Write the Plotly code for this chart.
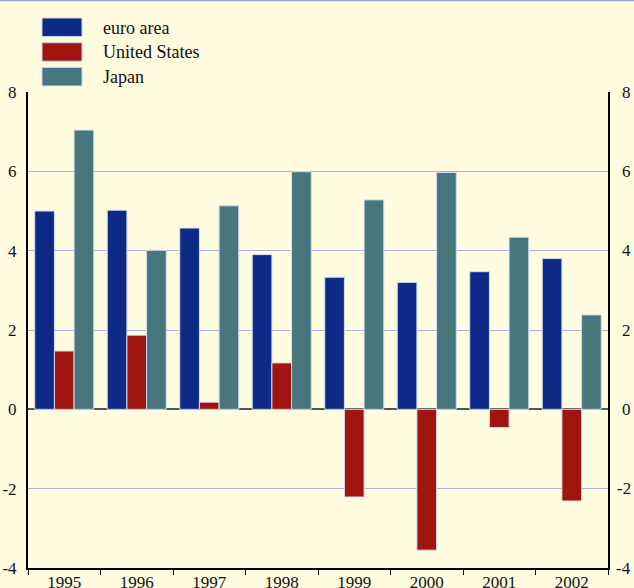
import plotly.graph_objects as go

# Annual data, per cent
years = ["1995", "1996", "1997", "1998", "1999", "2000", "2001", "2002"]
series_names = ["euro area", "United States", "Japan"]
euro_area = [5.0, 5.02, 4.57, 3.9, 3.33, 3.2, 3.47, 3.8]
united_states = [1.47, 1.87, 0.18, 1.17, -2.21, -3.55, -0.46, -2.31]
japan = [7.04, 4.01, 5.13, 5.99, 5.28, 5.97, 4.34, 2.38]
y_ticks = [-4, -2, 0, 2, 4, 6, 8]
y_tick_text = ["-4", "-2", "0", "2", "4", "6", "8"]

colors = ["#0e2a87", "#a11510", "#47767d"]
bg = "#fffce0"
font_family = "Liberation Serif, Times New Roman, serif"

W, H = 634, 588
L, R, T, B = 28, 26, 92, 20
pw, ph = W - L - R, H - T - B


def px_x(x):
    return (x - L) / pw


def px_y(y):
    return (H - B - y) / ph


fig = go.Figure()
for name, vals, col in zip(series_names, [euro_area, united_states, japan], colors):
    fig.add_trace(go.Bar(
        x=years, y=vals, name=name,
        marker=dict(color=col, line=dict(color="#d4dbee", width=1)),
        showlegend=False,
    ))

# invisible trace that anchors the right-hand axis line
fig.add_trace(go.Scatter(x=[years[0]], y=[0], yaxis="y2", mode="markers",
                         marker=dict(opacity=0), showlegend=False, hoverinfo="skip"))

shapes = []
annotations = []
# legend: coloured swatches with labels
for i, (name, col) in enumerate(zip(series_names, colors)):
    top = 18 + i * 24.7
    shapes.append(dict(type="rect", xref="paper", yref="paper",
                       x0=px_x(42), x1=px_x(82), y0=px_y(top), y1=px_y(top + 18.5),
                       fillcolor=col, line=dict(color="#c9d2ea", width=1)))
    annotations.append(dict(xref="paper", yref="paper", x=px_x(101), y=px_y(top + 9.5),
                            xanchor="left", yanchor="middle", showarrow=False,
                            text=name, font=dict(family=font_family, size=18, color="#111")))

# right-hand value labels, right-aligned at the page edge
for v, t in zip(y_ticks, y_tick_text):
    annotations.append(dict(xref="paper", yref="y", x=px_x(633), y=v,
                            xanchor="right", yanchor="middle", showarrow=False,
                            text=t, font=dict(family=font_family, size=17, color="#111")))

# thin rule across the top of the page
shapes.append(dict(type="line", xref="paper", yref="paper",
                   x0=px_x(0), x1=px_x(W), y0=px_y(0.5), y1=px_y(0.5),
                   line=dict(color="#9aa8d8", width=1.5)))

fig.update_layout(
    width=W, height=H,
    margin=dict(l=L, r=R, t=T, b=B, pad=0),
    paper_bgcolor=bg, plot_bgcolor=bg,
    barmode="group", bargap=0.186, bargroupgap=0,
    font=dict(family=font_family, size=17, color="#111"),
    shapes=shapes, annotations=annotations,
    xaxis=dict(
        type="category", showline=True, linecolor="#000", linewidth=2,
        ticks="outside", tickson="boundaries", ticklen=5, tickcolor="#000", tickwidth=1,
        showgrid=False, tickfont=dict(size=17), automargin=False, ticklabelstandoff=-2,
    ),
    yaxis=dict(
        range=[-4, 8], tickvals=y_ticks, ticktext=y_tick_text,
        showline=True, linecolor="#000", linewidth=2,
        gridcolor="#aab3d9", gridwidth=1, zeroline=True, zerolinecolor="#555",
        zerolinewidth=2, ticks="", ticklabelstandoff=6, tickfont=dict(size=17),
        automargin=False,
    ),
    yaxis2=dict(
        range=[-4, 8], overlaying="y", side="right",
        showline=True, linecolor="#000", linewidth=2, showgrid=False, zeroline=False,
        ticks="", showticklabels=False, automargin=False,
    ),
)

fig.write_html("out.html")
